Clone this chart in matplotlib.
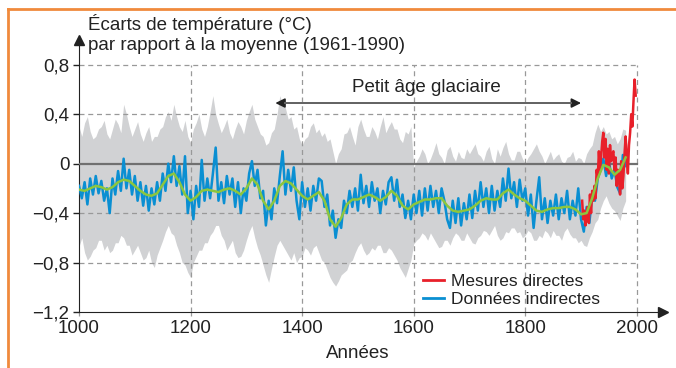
import numpy as np
import matplotlib
matplotlib.use('Agg')
import matplotlib.pyplot as plt
from matplotlib.lines import Line2D

plt.rcParams['font.family'] = ['Liberation Sans', 'DejaVu Sans']

# Données indirectes (tous les 5 ans, 1000-1980)
annees_ind = np.arange(1000, 1981, 5)
indirectes = [
    -0.18, -0.28, -0.15, -0.33, -0.12, -0.25, -0.10, -0.24, -0.14, -0.30,
    -0.20, -0.40, -0.12, -0.25, -0.06, -0.22, 0.04, -0.20, -0.05, -0.25,
    -0.10, -0.30, -0.15, -0.34, -0.18, -0.38, -0.20, -0.33, -0.15, -0.30,
    -0.08, -0.22, 0.00, -0.15, 0.06, -0.18, -0.02, -0.25, 0.06, -0.40,
    -0.22, -0.45, -0.18, -0.35, 0.03, -0.30, -0.12, -0.28, -0.08, 0.13,
    -0.30, -0.15, -0.32, -0.10, -0.25, -0.12, -0.35, -0.15, -0.40, -0.20,
    -0.30, -0.08, 0.02, -0.18, -0.05, -0.28, -0.22, -0.50, -0.30, -0.45,
    -0.20, -0.32, -0.10, 0.10, -0.25, -0.05, -0.22, -0.03, -0.30, -0.45,
    -0.15, -0.35, -0.20, -0.38, -0.18, -0.30, -0.12, -0.14, -0.35, -0.25,
    -0.50, -0.38, -0.60, -0.45, -0.52, -0.30, -0.40, -0.22, -0.35, -0.20,
    -0.38, -0.09, -0.32, -0.18, -0.35, -0.15, -0.30, -0.20, -0.40, -0.22,
    -0.33, -0.15, -0.11, -0.30, -0.13, -0.35, -0.25, -0.44, -0.30, -0.45,
    -0.25, -0.40, -0.22, -0.42, -0.20, -0.38, -0.18, -0.35, -0.22, -0.40,
    -0.20, -0.30, -0.45, -0.52, -0.30, -0.48, -0.28, -0.50, -0.32, -0.45,
    -0.25, -0.44, -0.22, -0.38, -0.15, -0.35, -0.20, -0.40, -0.18, -0.38,
    -0.22, -0.35, -0.12, -0.30, -0.04, -0.28, -0.15, -0.35, -0.13, -0.30,
    -0.20, -0.42, -0.25, -0.52, -0.30, -0.11, -0.45, -0.28, -0.48, -0.30,
    -0.42, -0.25, -0.45, -0.28, -0.40, -0.22, -0.45, -0.30, -0.42, -0.20,
    -0.45, -0.55, -0.35, -0.48, -0.25, -0.30, -0.12, -0.05, 0.04, -0.10,
    0.02, -0.12, -0.05, -0.19, -0.24, 0.07, -0.02,
]
# enveloppe d'incertitude (mêmes années)
haut = [
    0.30, 0.22, 0.33, 0.38, 0.26, 0.20, 0.22, 0.28, 0.30, 0.35,
    0.24, 0.20, 0.28, 0.36, 0.32, 0.25, 0.48, 0.40, 0.30, 0.22,
    0.28, 0.34, 0.24, 0.18, 0.25, 0.30, 0.18, 0.22, 0.22, 0.28,
    0.30, 0.38, 0.42, 0.35, 0.48, 0.38, 0.30, 0.26, 0.35, 0.22,
    0.17, 0.28, 0.33, 0.40, 0.28, 0.22, 0.30, 0.42, 0.55, 0.40,
    0.32, 0.25, 0.30, 0.36, 0.25, 0.20, 0.28, 0.34, 0.30, 0.24,
    0.35, 0.42, 0.48, 0.36, 0.30, 0.24, 0.22, 0.15, 0.17, 0.25,
    0.28, 0.40, 0.55, 0.48, 0.45, 0.36, 0.38, 0.28, 0.30, 0.20,
    0.15, 0.20, 0.22, 0.30, 0.33, 0.25, 0.28, 0.22, 0.25, 0.18,
    0.20, 0.10, 0.00, 0.08, 0.12, 0.24, 0.25, 0.30, 0.22, 0.15,
    0.30, 0.36, 0.28, 0.22, 0.22, 0.30, 0.26, 0.20, 0.30, 0.38,
    0.25, 0.30, 0.34, 0.28, 0.28, 0.20, 0.17, 0.26, 0.24, 0.30,
    -0.03, 0.02, 0.06, 0.12, 0.08, 0.00, 0.04, 0.10, 0.17, 0.08,
    0.05, 0.00, 0.11, 0.14, 0.06, 0.02, 0.10, 0.05, 0.04, 0.12,
    0.08, 0.12, 0.16, 0.08, 0.06, 0.02, 0.10, 0.14, 0.04, 0.00,
    0.12, 0.06, 0.13, 0.18, 0.08, 0.03, 0.03, 0.10, 0.10, 0.04,
    0.00, 0.05, 0.08, 0.12, 0.16, 0.10, 0.06, 0.00, 0.05, 0.10,
    0.03, 0.06, 0.08, 0.02, 0.00, 0.05, 0.06, 0.10, 0.02, 0.05,
    0.04, 0.00, 0.08, 0.12, 0.15, 0.25, 0.32, 0.26, 0.30, 0.24,
    0.26, 0.20, 0.22, 0.16, 0.20, 0.28, 0.27,
]
bas = [
    -0.67, -0.60, -0.72, -0.78, -0.75, -0.70, -0.68, -0.62, -0.62, -0.70,
    -0.66, -0.72, -0.70, -0.64, -0.64, -0.58, -0.60, -0.66, -0.66, -0.74,
    -0.70, -0.66, -0.72, -0.78, -0.76, -0.70, -0.80, -0.84, -0.74, -0.68,
    -0.62, -0.55, -0.50, -0.56, -0.58, -0.66, -0.72, -0.80, -0.82, -0.88,
    -0.92, -0.80, -0.75, -0.70, -0.70, -0.64, -0.64, -0.58, -0.55, -0.50,
    -0.50, -0.58, -0.62, -0.70, -0.66, -0.62, -0.72, -0.76, -0.75, -0.70,
    -0.62, -0.55, -0.50, -0.60, -0.68, -0.74, -0.82, -0.90, -0.96, -0.85,
    -0.75, -0.66, -0.62, -0.66, -0.70, -0.74, -0.78, -0.72, -0.80, -0.76,
    -0.75, -0.68, -0.70, -0.74, -0.68, -0.66, -0.72, -0.78, -0.80, -0.86,
    -0.92, -0.96, -0.99, -0.95, -0.90, -0.88, -0.86, -0.80, -0.78, -0.72,
    -0.67, -0.64, -0.70, -0.74, -0.72, -0.68, -0.70, -0.66, -0.66, -0.72,
    -0.72, -0.68, -0.70, -0.74, -0.78, -0.84, -0.88, -0.92, -0.85, -0.78,
    -0.65, -0.62, -0.60, -0.56, -0.58, -0.62, -0.56, -0.60, -0.64, -0.68,
    -0.67, -0.62, -0.62, -0.66, -0.60, -0.56, -0.58, -0.62, -0.62, -0.56,
    -0.60, -0.64, -0.65, -0.60, -0.58, -0.54, -0.55, -0.58, -0.54, -0.50,
    -0.58, -0.62, -0.60, -0.55, -0.56, -0.52, -0.52, -0.56, -0.55, -0.60,
    -0.58, -0.54, -0.56, -0.62, -0.62, -0.58, -0.60, -0.54, -0.56, -0.60,
    -0.54, -0.58, -0.58, -0.62, -0.55, -0.52, -0.57, -0.60, -0.60, -0.64,
    -0.62, -0.66, -0.67, -0.60, -0.55, -0.48, -0.45, -0.36, -0.30, -0.26,
    -0.32, -0.36, -0.38, -0.42, -0.46, -0.36, -0.30,
]

# moyenne lissée (tous les 10 ans)
annees_10 = np.arange(1000, 1981, 10)
lissee = [
    -0.21, -0.22, -0.20, -0.18, -0.19, -0.21, -0.19, -0.15, -0.13, -0.14,
    -0.18, -0.22, -0.25, -0.26, -0.24, -0.17, -0.10, -0.08, -0.15, -0.25,
    -0.30, -0.27, -0.22, -0.21, -0.22, -0.23, -0.21, -0.20, -0.22, -0.25,
    -0.20, -0.12, -0.17, -0.30, -0.37, -0.30, -0.18, -0.14, -0.16, -0.21,
    -0.26, -0.29, -0.26, -0.23, -0.30, -0.45, -0.51, -0.44, -0.33, -0.29,
    -0.29, -0.27, -0.25, -0.27, -0.30, -0.27, -0.22, -0.26, -0.34, -0.37,
    -0.33, -0.31, -0.29, -0.29, -0.28, -0.28, -0.34, -0.38, -0.39, -0.38,
    -0.37, -0.34, -0.30, -0.28, -0.29, -0.29, -0.24, -0.21, -0.25, -0.28,
    -0.30, -0.34, -0.38, -0.39, -0.37, -0.36, -0.36, -0.35, -0.35, -0.37,
    -0.41, -0.40, -0.28, -0.12, -0.01, -0.03, -0.09, -0.05, 0.05,
]

# Mesures directes (tous les 2 ans)
annees_dir = np.arange(1902, 1999, 2)
directes = [
    -0.30, -0.45, -0.38, -0.50, -0.42, -0.35, -0.48, -0.25, -0.40, -0.22,
    -0.30, -0.18, -0.28, -0.05, -0.12, 0.10, -0.05, 0.05, 0.18, 0.25,
    0.05, 0.20, -0.05, 0.12, -0.08, 0.15, 0.02, 0.08, 0.10, -0.05,
    0.05, -0.18, -0.05, -0.12, -0.25, 0.02, -0.20, -0.10, 0.08, 0.22,
    0.05, -0.08, 0.15, 0.25, 0.40, 0.30, 0.50, 0.68, 0.55,
]

yticks = [-1.2, -0.8, -0.4, 0, 0.4, 0.8]
ylabels = ['\u22121,2', '\u22120,8', '\u22120,4', '0', '0,4', '0,8']
xticks = [1000, 1200, 1400, 1600, 1800, 2000]

fig = plt.figure(figsize=(6.76, 3.68), dpi=100)
ax = fig.add_axes([0.1169, 0.1522, 0.8639, 0.7391])
ax.set_xlim(1000, 2047)
ax.set_ylim(-1.2, 1.0)

ax.fill_between(annees_ind, bas, haut, color='#d1d2d4', lw=0, zorder=1)

# quadrillage
for y in [-0.8, -0.4, 0.4, 0.8]:
    ax.plot([1000, 2000], [y, y], color='#999999', lw=0.9, ls=(0, (4, 3)), zorder=2)
for x in xticks[1:]:
    ax.plot([x, x], [-1.2, 0.8], color='#999999', lw=0.9, ls=(0, (4, 3)), zorder=2)
ax.plot([1000, 2000], [0, 0], color='#707070', lw=1.6, zorder=3)

ax.plot(annees_ind, indirectes, color='#0a8fd2', lw=1.8, zorder=4)
ax.plot(annees_dir, directes, color='#e8202a', lw=1.8, zorder=5)
ax.plot(annees_10, lissee, color='#8cc63e', lw=1.8, zorder=6)

# Petit âge glaciaire
ax.annotate('', xy=(1900, 0.49), xytext=(1352, 0.49),
            arrowprops=dict(arrowstyle='<|-|>', color='#222222', lw=1.2,
                            mutation_scale=14, shrinkA=0, shrinkB=0), zorder=7)
ax.plot([1370, 1882], [0.49, 0.49], color='#666666', lw=1.4, zorder=7)
ax.text(1623, 0.615, 'Petit âge glaciaire', ha='center', va='center', fontsize=13.5, color='#222222')

# axes avec flèches
for s in ['top', 'right']:
    ax.spines[s].set_visible(False)
ax.spines['left'].set_bounds(-1.2, 0.97)
ax.spines['bottom'].set_bounds(1000, 2040)
ax.spines['left'].set_color('#222222')
ax.spines['bottom'].set_color('#222222')
ax.plot(1000, 1.0, marker='^', color='#222222', ms=7, clip_on=False, zorder=8)
ax.plot(2047, -1.2, marker='>', color='#222222', ms=7, clip_on=False, zorder=8)

ax.set_yticks(yticks)
ax.set_yticklabels(ylabels)
ax.set_xticks(xticks)
ax.tick_params(axis='y', direction='out', length=4, width=1, color='#222222', labelsize=13.5,
               labelcolor='#222222', pad=3)
ax.tick_params(axis='x', direction='out', length=3, width=0.9, color='#999999', labelsize=13.5,
               labelcolor='#222222', pad=3)

handles = [Line2D([], [], color='#e8202a', lw=2), Line2D([], [], color='#0a8fd2', lw=2)]
ax.legend(handles, ['Mesures directes', 'Données indirectes'], loc='upper left',
          bbox_to_anchor=(0.626, 0.256), bbox_transform=fig.transFigure, frameon=False,
          fontsize=12.5, handlelength=1.2, handletextpad=0.4, labelspacing=0.15,
          borderaxespad=0, borderpad=0, labelcolor='#222222')

fig.text(88 / 676, 1 - 24 / 368, 'Écarts de température (°C)', fontsize=13.5, va='center',
         ha='left', color='#222222')
fig.text(88 / 676, 1 - 45 / 368, 'par rapport à la moyenne (1961-1990)', fontsize=13.5,
         va='center', ha='left', color='#222222')
fig.text(358 / 676, 1 - 354 / 368, 'Années', fontsize=13.5, ha='center', va='center',
         color='#222222')

# cadre orange
fig.add_artist(Line2D([8 / 676, 1], [1 - 9 / 368, 1 - 9 / 368], color='#f08a3c', lw=2))
fig.add_artist(Line2D([8 / 676, 8 / 676], [0, 1 - 9 / 368], color='#f08a3c', lw=2))

fig.savefig('out.png', dpi=100)
